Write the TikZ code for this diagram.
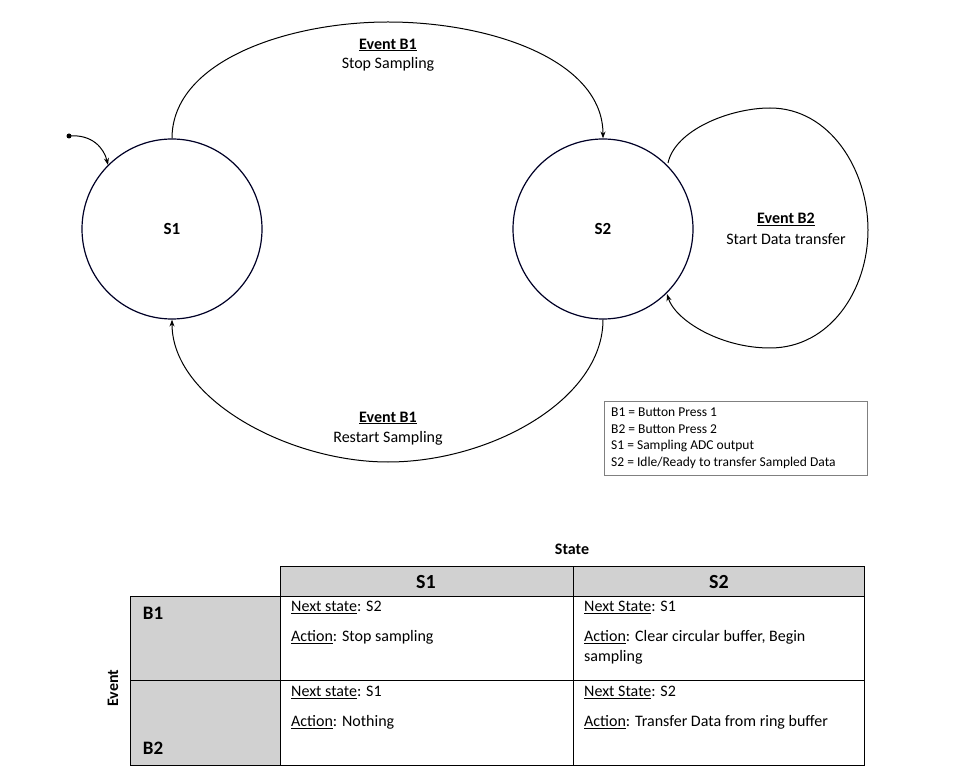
\documentclass[tikz,border=0pt]{standalone}
\usepackage{fontspec}
\setmainfont{Carlito}
\usetikzlibrary{arrows.meta}
\begin{document}
\begin{tikzpicture}[x=1pt,y=-1pt,
  st/.style={circle,draw=black!85!blue,line width=1.2pt,minimum size=180pt,inner sep=0pt,font=\fontsize{17}{20}\selectfont\bfseries},
  lbl/.style={font=\fontsize{16}{19}\selectfont,inner sep=1pt},
  tr/.style={-{Stealth[length=7pt,width=5pt]},line width=1pt},
  cell/.style={anchor=north west,font=\fontsize{16}{19}\selectfont,inner sep=0pt,align=left},
  leg/.style={anchor=west,font=\fontsize{13.5}{15}\selectfont,inner sep=0pt}]
\useasboundingbox (0,0) rectangle (953,783);
\node[st] (s1) at (172,229) {S1};
\node[st] (s2) at (603,229) {S2};
\fill (69,136) circle (2.5pt);
\coordinate (i0) at (69,136);
\draw[tr] (i0) .. controls (92,134) and (104,148) .. (108,165);
\draw[tr] (s1.north) .. controls (172,60) and (290,22) .. (388,22) .. controls (490,22) and (603,60) .. (s2.north);
\draw[tr] (s2.south) .. controls (603,400) and (490,462) .. (388,462) .. controls (290,462) and (172,400) .. (s1.south);
\draw[tr] (668,163) .. controls (675,130) and (730,108) .. (770,108) .. controls (830,108) and (868,170) .. (868,230) .. controls (868,290) and (830,348) .. (770,348) .. controls (720,348) and (675,320) .. (667,294);
\node[lbl,font=\fontsize{16}{19}\selectfont\bfseries] (l1) at (388,45) {\underline{Event B1}};
\node[lbl] (l2) at (388,64) {Stop Sampling};
\node[lbl,font=\fontsize{16}{19}\selectfont\bfseries] (l3) at (388,418) {\underline{Event B1}};
\node[lbl] (l4) at (388,438) {Restart Sampling};
\node[lbl,font=\fontsize{16}{19}\selectfont\bfseries] (l5) at (786,219) {\underline{Event B2}};
\node[lbl] (l6) at (786,239) {Start Data transfer};
\draw[black!50,line width=0.6pt] (604,401) rectangle (867,475);
\node[leg] (g1) at (611,412) {B1 = Button Press 1};
\node[leg] (g2) at (611,429) {B2 = Button Press 2};
\node[leg] (g3) at (611,446) {S1 = Sampling ADC output};
\node[leg] (g4) at (611,463) {S2 = Idle/Ready to transfer Sampled Data};
% table
\node[font=\fontsize{16}{19}\selectfont\bfseries] (state) at (572,549) {State};
\fill[black!18] (280,566) rectangle (864,596);
\fill[black!18] (130,596) rectangle (280,765);
\draw[line width=0.8pt] (280,566) rectangle (864,596);
\draw[line width=0.8pt] (130,596) rectangle (864,765);
\draw[line width=0.8pt] (573,566) -- (573,765);
\draw[line width=0.8pt] (280,596) -- (280,765);
\draw[line width=0.8pt] (130,680) -- (864,680);
\node[font=\fontsize{20}{24}\selectfont\bfseries] (h1) at (426,582) {S1};
\node[font=\fontsize{20}{24}\selectfont\bfseries] (h2) at (719,582) {S2};
\node[font=\fontsize{19}{22}\selectfont\bfseries] (b1) at (153,613) {B1};
\node[font=\fontsize{19}{22}\selectfont\bfseries] (b2) at (153,748) {B2};
\node[font=\fontsize{16}{19}\selectfont\bfseries,rotate=90] (ev) at (113,688) {Event};
\node[cell] (c11) at (291,601) {\underline{Next state}: S2};
\node[cell] (c12) at (291,630) {\underline{Action}: Stop sampling};
\node[cell] (c21) at (584,601) {\underline{Next State}: S1};
\node[cell] (c22) at (584,630) {\underline{Action}: Clear circular buffer, Begin\\[1pt]sampling};
\node[cell] (c31) at (291,686) {\underline{Next state}: S1};
\node[cell] (c32) at (291,715) {\underline{Action}: Nothing};
\node[cell] (c41) at (584,686) {\underline{Next State}: S2};
\node[cell] (c42) at (584,715) {\underline{Action}: Transfer Data from ring buffer};
\end{tikzpicture}
\end{document}
